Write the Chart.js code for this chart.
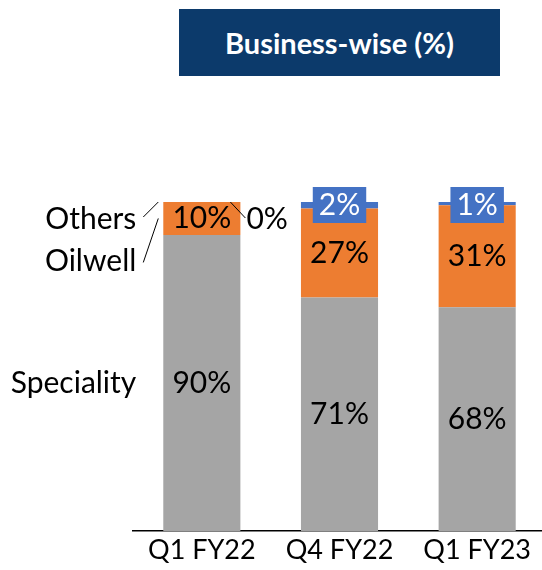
<!DOCTYPE html>
<html>
<head>
<meta charset="utf-8">
<script src="https://cdn.jsdelivr.net/npm/chart.js@4"></script>
<style>
  body { margin: 0; background: #fff; }
  #wrap { position: relative; width: 542px; height: 570px; overflow: hidden; }
  #title {
    position: absolute; left: 179px; top: 9px; width: 321px; height: 67px;
    background: #0c3a6b; color: #fff;
    font: bold 29px Lato, sans-serif;
    display: flex; align-items: center; justify-content: center;
  }
  canvas { position: absolute; left: 0; top: 0; }
</style>
</head>
<body>
<div id="wrap">
  <div id="title">Business-wise (%)</div>
  <canvas id="chart" width="546" height="570"></canvas>
</div>
<script>
// chart data
const quarters = ['Q1 FY22', 'Q4 FY22', 'Q1 FY23'];
const speciality = [90, 71, 68];
const oilwell = [10, 27, 31];
const others = [0, 2, 1];

const FONT = 'Lato, sans-serif';

// draws segment values, series names and leader lines
const labelPlugin = {
  id: 'labels',
  afterDatasetsDraw(chart) {
    const ctx = chart.ctx;
    const spec = chart.getDatasetMeta(0).data;
    const oil = chart.getDatasetMeta(1).data;
    const oth = chart.getDatasetMeta(2).data;
    ctx.save();
    ctx.font = '30px ' + FONT;
    ctx.textBaseline = 'middle';
    ctx.textAlign = 'center';
    ctx.fillStyle = '#000';

    spec.forEach((bar, i) => {
      ctx.fillText(speciality[i] + '%', bar.x, (bar.y + bar.base) / 2);
    });
    oil.forEach((bar, i) => {
      ctx.fillText(oilwell[i] + '%', bar.x, (bar.y + bar.base) / 2);
    });
    oth.forEach((bar, i) => {
      if (others[i] > 0) {
        const txt = others[i] + '%';
        const w = ctx.measureText(txt).width + 12;
        const cy = bar.y + 3;
        ctx.fillStyle = '#4472c4';
        ctx.fillRect(bar.x - w / 2, cy - 18, w, 36);
        ctx.fillStyle = '#fff';
        ctx.fillText(txt, bar.x, cy);
        ctx.fillStyle = '#000';
      }
    });

    // first bar: zero "Others" value outside, plus series names on the left
    const b = oth[0];
    const half = b.width / 2;
    const right = b.x + half;
    const left = b.x - half;
    const top = b.y;
    ctx.strokeStyle = '#000';
    ctx.lineWidth = 1;
    ctx.beginPath();
    ctx.moveTo(right - 10, top);
    ctx.lineTo(right + 5, top + 16);
    ctx.stroke();
    ctx.textAlign = 'left';
    ctx.fillText(others[0] + '%', right + 6, top + 17);

    ctx.textAlign = 'right';
    const lx = left - 27;
    ctx.fillText('Others', lx, top + 17);
    ctx.beginPath();
    ctx.moveTo(left - 20, top + 15);
    ctx.lineTo(left - 5, top);
    ctx.stroke();

    const oilMid = (oil[0].y + oil[0].base) / 2;
    ctx.fillText('Oilwell', lx, oilMid + 43);
    ctx.beginPath();
    ctx.moveTo(left - 20, oilMid + 44);
    ctx.lineTo(left - 5, oilMid);
    ctx.stroke();

    ctx.fillText('Speciality', lx, (spec[0].y + spec[0].base) / 2);
    ctx.restore();
  }
};

new Chart(document.getElementById('chart'), {
  type: 'bar',
  data: {
    labels: quarters,
    datasets: [
      { label: 'Speciality', data: speciality, backgroundColor: '#a5a5a5' },
      { label: 'Oilwell', data: oilwell, backgroundColor: '#ed7d31' },
      { label: 'Others', data: others, backgroundColor: '#4472c4' }
    ]
  },
  options: {
    responsive: false,
    animation: false,
    layout: { padding: { left: 133, top: 202, right: 0, bottom: 0 } },
    datasets: { bar: { categoryPercentage: 1, barPercentage: 0.56 } },
    scales: {
      x: {
        stacked: true,
        grid: { display: false, drawTicks: false },
        border: { color: '#000', width: 1.5 },
        ticks: { color: '#000', font: { family: FONT, size: 27, lineHeight: 1 }, padding: 6 }
      },
      y: { stacked: true, display: false, min: 0, max: 100 }
    },
    plugins: { legend: { display: false }, tooltip: { enabled: false } }
  },
  plugins: [labelPlugin]
});
</script>
</body>
</html>
